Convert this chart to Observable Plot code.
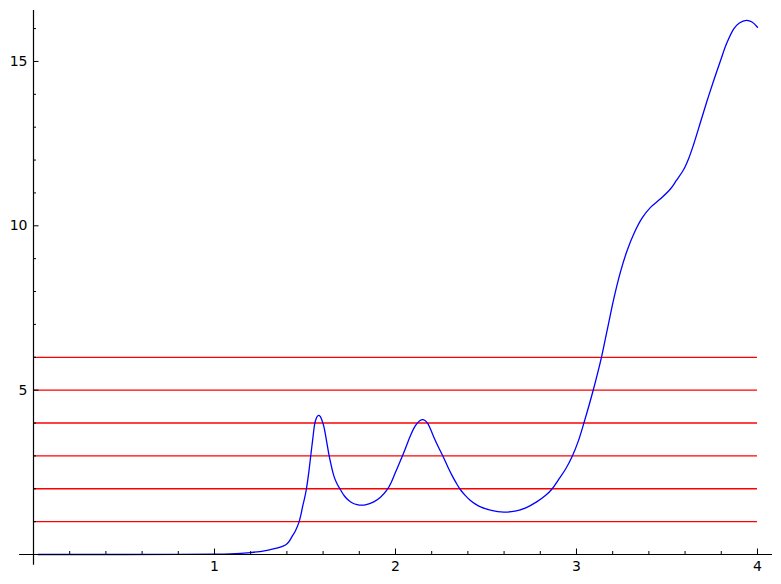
<!DOCTYPE html>
<html>
<head>
<meta charset="utf-8">
<script src="https://cdn.jsdelivr.net/npm/d3@7"></script>
<script src="https://cdn.jsdelivr.net/npm/@observablehq/plot@0.6"></script>
<style>
  html, body { margin: 0; padding: 0; background: #fff; }
  svg { display: block; }
</style>
</head>
<body>
<div id="chart"></div>
<script>
// Curve samples
const curveX = [0.025, 0.5, 0.8, 1.0, 1.088, 1.2, 1.25, 1.309, 1.35, 1.392, 1.41, 1.429, 1.448, 1.466, 1.477, 1.488, 1.498, 1.507, 1.521, 1.53, 1.543, 1.554, 1.562, 1.569, 1.576, 1.584, 1.591, 1.604, 1.617, 1.635, 1.659, 1.677, 1.696, 1.718, 1.742, 1.765, 1.788, 1.81, 1.834, 1.88, 1.917, 1.954, 1.977, 2.0, 2.037, 2.06, 2.083, 2.11, 2.134, 2.153, 2.175, 2.193, 2.212, 2.237, 2.263, 2.288, 2.313, 2.336, 2.359, 2.385, 2.411, 2.44, 2.47, 2.53, 2.598, 2.66, 2.72, 2.78, 2.83, 2.866, 2.9, 2.94, 2.976, 3.01, 3.04, 3.092, 3.136, 3.169, 3.206, 3.243, 3.28, 3.317, 3.363, 3.409, 3.464, 3.519, 3.552, 3.593, 3.62, 3.648, 3.685, 3.722, 3.76, 3.796, 3.83, 3.869, 3.9, 3.939, 3.97, 4.0];
const curveY = [0, 0, 0.002, 0.008, 0.02, 0.06, 0.09, 0.15, 0.2, 0.29, 0.38, 0.55, 0.73, 0.97, 1.2, 1.49, 1.72, 1.97, 2.5, 2.92, 3.52, 3.98, 4.14, 4.21, 4.23, 4.2, 4.12, 3.9, 3.52, 2.96, 2.4, 2.15, 1.97, 1.78, 1.64, 1.56, 1.52, 1.5, 1.51, 1.6, 1.74, 1.97, 2.2, 2.5, 2.98, 3.3, 3.62, 3.92, 4.07, 4.1, 4.01, 3.82, 3.57, 3.27, 2.98, 2.68, 2.4, 2.17, 1.97, 1.8, 1.66, 1.54, 1.45, 1.34, 1.29, 1.32, 1.42, 1.6, 1.8, 2.0, 2.27, 2.6, 2.98, 3.45, 3.98, 4.99, 5.95, 6.81, 7.78, 8.6, 9.25, 9.76, 10.24, 10.56, 10.82, 11.12, 11.38, 11.72, 12.05, 12.49, 13.15, 13.81, 14.45, 15.03, 15.55, 15.99, 16.17, 16.25, 16.2, 16.04];

// Horizontal reference lines
const redLevels = [1, 2, 3, 4, 5, 6];
const redStart = 0;
const redEnd = 4;

// Axis ticks
const xMajor = [1, 2, 3, 4];
const xMinor = [0.2, 0.4, 0.6, 0.8, 1.2, 1.4, 1.6, 1.8, 2.2, 2.4, 2.6, 2.8, 3.2, 3.4, 3.6, 3.8];
const yMajor = [5, 10, 15];
const yMinor = [1, 2, 3, 4, 6, 7, 8, 9, 11, 12, 13, 14, 16];

// Axis extents
const xExtent = [-0.077, 4.083];
const yExtent = [-0.33, 16.55];

const curve = curveX.map((x, i) => ({x, y: curveY[i]}));

const chart = Plot.plot({
  width: 781,
  height: 584,
  marginLeft: 33,
  marginRight: 9,
  marginTop: 10,
  marginBottom: 30,
  style: {fontFamily: "DejaVu Sans", fontSize: "14px", color: "black", background: "white"},
  x: {domain: [0, xExtent[1]]},
  y: {domain: [0, yExtent[1]]},
  marks: [
    Plot.ruleY(redLevels, {x1: redStart, x2: redEnd, stroke: "#ff0000", strokeWidth: 1.3}),
    Plot.line(curve, {x: "x", y: "y", stroke: "#0000ff", strokeWidth: 1.3, curve: "catmull-rom"}),
    Plot.ruleY([0], {x1: xExtent[0], x2: xExtent[1], stroke: "black", strokeWidth: 1.2}),
    Plot.ruleX([0], {y1: yExtent[0], y2: yExtent[1], stroke: "black", strokeWidth: 1.2}),
    // x ticks (inward)
    Plot.axisX(xMajor, {tickSize: 5.5, insetBottom: 5.5, tickFormat: () => "", label: null, strokeWidth: 1}),
    Plot.axisX(xMinor, {tickSize: 3, insetBottom: 3, tickFormat: () => "", label: null, strokeWidth: 1}),
    Plot.axisX(xMajor, {tickSize: 0, tickPadding: 7, tickFormat: d => String(d), label: null, fill: "black"}),
    // y ticks (inward)
    Plot.axisY(yMajor, {tickSize: 5.5, insetLeft: 5.5, tickFormat: () => "", label: null, strokeWidth: 1}),
    Plot.axisY(yMinor, {tickSize: 3, insetLeft: 3, tickFormat: () => "", label: null, strokeWidth: 1}),
    Plot.axisY(yMajor, {tickSize: 0, tickPadding: 6, tickFormat: d => String(d), label: null, fill: "black"})
  ]
});

document.getElementById("chart").appendChild(chart);
</script>
</body>
</html>
